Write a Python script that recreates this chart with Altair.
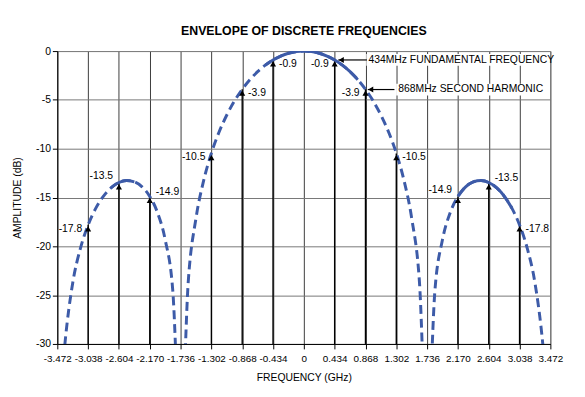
import altair as alt
import pandas as pd

FONT = "Liberation Sans"

title_text = "ENVELOPE OF DISCRETE FREQUENCIES"
x_title = "FREQUENCY (GHz)"
y_title = "AMPLITUDE (dB)"

freq_ticks = [-3.472, -3.038, -2.604, -2.170, -1.736, -1.302, -0.868, -0.434, 0,
              0.434, 0.868, 1.302, 1.736, 2.170, 2.604, 3.038, 3.472]
db_ticks = [0, -5, -10, -15, -20, -25, -30]

# envelope (values below -30 fall outside the plot)
curve_freq = [-3.472, -3.3635, -3.255, -3.1465, -3.038, -2.9295, -2.821, -2.7125, -2.604,
              -2.4955, -2.387, -2.2785, -2.17, -2.0615, -1.953, -1.8445, -1.736, -1.6275,
              -1.519, -1.4105, -1.302, -1.1935, -1.085, -0.9765, -0.868, -0.7595, -0.651,
              -0.5425, -0.434, -0.3255, -0.217, -0.1085, 0.0, 0.1085, 0.217, 0.3255, 0.434,
              0.5425, 0.651, 0.7595, 0.868, 0.9765, 1.085, 1.1935, 1.302, 1.4105, 1.519,
              1.6275, 1.736, 1.8445, 1.953, 2.0615, 2.17, 2.2785, 2.387, 2.4955, 2.604,
              2.7125, 2.821, 2.9295, 3.038, 3.1465, 3.255, 3.3635, 3.472]
curve_db = [-40, -29.88, -23.75, -20.21, -17.81, -16.09, -14.85, -13.99, -13.46,
            -13.26, -13.40, -13.91, -14.89, -16.54, -19.31, -24.66, -40, -23.58,
            -17.13, -13.25, -10.45, -8.29, -6.55, -5.11, -3.92, -2.93, -2.11,
            -1.44, -0.91, -0.51, -0.22, -0.06, 0.0, -0.06, -0.22, -0.51, -0.91,
            -1.44, -2.11, -2.93, -3.92, -5.11, -6.55, -8.29, -10.45, -13.25, -17.13,
            -23.58, -40, -24.66, -19.31, -16.54, -14.89, -13.91, -13.40, -13.26, -13.46,
            -13.99, -14.85, -16.09, -17.81, -20.21, -23.75, -29.88, -40]

# discrete frequencies (arrows) and their labels
arrow_freq = [-3.038, -2.604, -2.170, -1.302, -0.868, -0.434,
              0.434, 0.868, 1.302, 2.170, 2.604, 3.038]
arrow_db = [-17.8, -13.5, -14.9, -10.5, -3.9, -0.9,
            -0.9, -3.9, -10.5, -14.9, -13.5, -17.8]
label_pos = ["lb", "la", "ra", "lb", "rb", "rb",
             "lb", "lb", "rb", "la", "ra", "rb"]

# callouts
callout_text = ["434MHz FUNDAMENTAL FREQUENCY", "868MHz SECOND HARMONIC"]
callout_tip = [0.485, 0.90]
callout_tail = [0.888, 1.276]
callout_text_x = [0.91, 1.33]
callout_db = [-0.91, -3.94]
callout_box_x2 = [3.40, 3.07]

curve = pd.DataFrame({"f": curve_freq, "db": curve_db})
arrows = pd.DataFrame({"f": arrow_freq, "db": arrow_db, "pos": label_pos,
                       "lab": [f"{v:.1f}" for v in arrow_db], "base": -30})
callouts = pd.DataFrame({"text": callout_text, "tip": callout_tip, "tail": callout_tail,
                         "tx": callout_text_x, "db": callout_db, "bx2": callout_box_x2})
callouts["y1"] = callouts["db"] + 0.6
callouts["y2"] = callouts["db"] - 0.6
callouts["bx1"] = callouts["tx"] - 0.03

xscale = alt.Scale(domain=[-3.472, 3.472], nice=False, zero=False)
yscale = alt.Scale(domain=[-30, 0], nice=False, zero=False)

x_axis = alt.Axis(
    values=freq_ticks, grid=True, gridColor="#3c3c3c", gridWidth=1,
    domainColor="#000", tickColor="#000", tickSize=5,
    labelFont=FONT, labelFontSize=10, labelColor="#000", labelOverlap=False, labelPadding=5,
    labelFlush=False, labelBound=False,
    labelExpr="datum.value == 0 ? '0' : (datum.value < 0 ? '-' : '') + format(abs(datum.value), '.3f')",
    title=x_title, titleFont=FONT, titleFontSize=10.5, titleFontWeight="normal",
    titleColor="#000", titlePadding=9,
)
y_axis = alt.Axis(
    values=db_ticks, grid=True, gridColor="#777777", gridWidth=1,
    domainColor="#000", tickColor="#000", tickSize=5,
    labelFont=FONT, labelFontSize=10.5, labelColor="#000", labelPadding=2,
    labelExpr="(datum.value < 0 ? '-' : '') + abs(datum.value)",
    title=y_title, titleFont=FONT, titleFontSize=10.5, titleFontWeight="normal",
    titleColor="#000", titlePadding=13,
)


def X(field):
    return alt.X(field, type="quantitative", scale=xscale, axis=x_axis)


def Y(field):
    return alt.Y(field, type="quantitative", scale=yscale, axis=y_axis)


BLUE = "#3d5ba8"

boxes = alt.Chart(callouts).mark_rect(color="white").encode(
    x=X("bx1"), x2="bx2:Q", y=Y("y1"), y2="y2:Q",
)

rules = alt.Chart(arrows).mark_rule(color="#000", strokeWidth=1.4).encode(
    x=X("f"), y=Y("base"), y2="db:Q"
)

dashed = alt.Chart(curve).mark_line(
    color=BLUE, strokeWidth=3, strokeDash=[9, 5], interpolate="monotone", clip=True
).encode(x=X("f"), y=Y("db"))

solid_filter = (
    ((alt.datum.f >= -0.55) & (alt.datum.f <= 0.76))
    | ((alt.datum.f >= -2.72) & (alt.datum.f <= -2.38))
    | ((alt.datum.f >= 2.16) & (alt.datum.f <= 2.93))
)
solid = alt.Chart(curve).transform_filter(solid_filter).transform_calculate(
    seg="datum.f < -1.7 ? 'a' : (datum.f > 1.7 ? 'c' : 'b')"
).mark_line(color=BLUE, strokeWidth=3, interpolate="monotone", clip=True).encode(
    x=X("f"), y=Y("db"), detail="seg:N"
)

heads = alt.Chart(arrows).mark_point(
    shape="triangle-up", filled=True, color="#000", size=38, opacity=1, yOffset=4
).encode(x=X("f"), y=Y("db"))


def labels(pos, align, dx, dy):
    return alt.Chart(arrows).transform_filter(alt.datum.pos == pos).mark_text(
        font=FONT, fontSize=10.5, color="#000", align=align, baseline="middle", dx=dx, dy=dy
    ).encode(x=X("f"), y=Y("db"), text="lab:N")


lab_layers = [
    labels("lb", "right", -6, 4),
    labels("la", "right", -6, -7),
    labels("rb", "left", 6, 4),
    labels("ra", "left", 6, -5),
]

c_rules = alt.Chart(callouts).mark_rule(color="#000", strokeWidth=1.2).encode(
    x=X("tip"), x2="tail:Q", y=Y("db")
)
c_heads = alt.Chart(callouts).mark_point(
    shape="triangle-left", filled=True, color="#000", size=36, opacity=1, xOffset=3
).encode(x=X("tip"), y=Y("db"))
c_text = alt.Chart(callouts).mark_text(
    font=FONT, fontSize=10.5, color="#000", align="left", baseline="middle"
).encode(x=X("tx"), y=Y("db"), text="text:N")

chart = alt.layer(
    boxes, rules, dashed, solid, heads, *lab_layers, c_rules, c_heads, c_text
).properties(
    width=500, height=297,
    title=alt.TitleParams(title_text, font=FONT, fontSize=12.5, fontWeight="bold",
                          color="#000", anchor="middle", offset=9),
    autosize=alt.AutoSizeParams(type="none"),
    padding={"left": 50, "top": 41, "right": 27, "bottom": 43},
).configure_view(stroke=None).configure(background="white")

chart.save("out.html", embed_options={"renderer": "svg", "actions": False})
